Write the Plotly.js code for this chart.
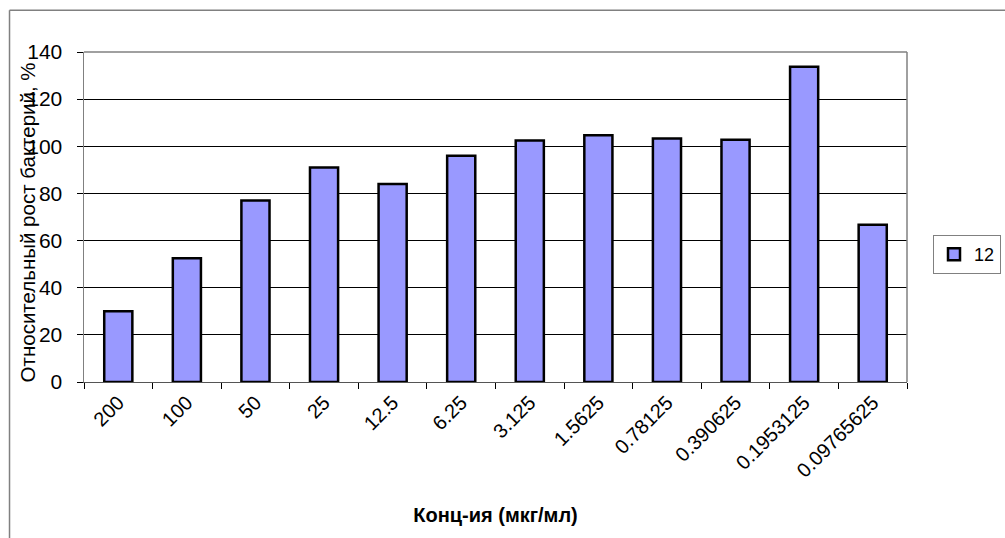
<!DOCTYPE html>
<html>
<head>
<meta charset="utf-8">
<script src="https://cdn.plot.ly/plotly-3.0.1.min.js"></script>
<style>
  html, body { margin: 0; padding: 0; background: #ffffff; }
  #chart { width: 1005px; height: 538px; }
</style>
</head>
<body>
<div id="chart"></div>
<script>
// Concentrations (мкг/мл), two-fold serial dilution
const concentrations = ['200', '100', '50', '25', '12.5', '6.25', '3.125', '1.5625',
  '0.78125', '0.390625', '0.1953125', '0.09765625'];
// Relative bacterial growth, %
const growth = [30, 52.5, 77, 91, 84, 96, 102.5, 104.7, 103.3, 102.8, 133.7, 66.7];
const seriesName = '12';
const yTicks = [0, 20, 40, 60, 80, 100, 120, 140];
const xTitle = 'Конц-ия (мкг/мл)';
const yTitle = 'Относительный рост бактерий, %';

const FONT = 'Arial, "Liberation Sans", sans-serif';
// trailing gap keeps the value labels clear of the short tick marks
const LABEL_GAP = '\u00A0\u2009';

const trace = {
  type: 'bar',
  x: concentrations,
  y: growth,
  name: seriesName,
  showlegend: true,
  marker: { color: '#9999FF', line: { color: '#000000', width: 2.5 } },
  hoverinfo: 'x+y'
};

const layout = {
  width: 1005,
  height: 538,
  margin: { l: 84, r: 98, t: 52, b: 156, autoexpand: false },
  paper_bgcolor: '#ffffff',
  plot_bgcolor: '#ffffff',
  font: { family: FONT, color: '#000000', size: 18 },
  bargap: 0.59,
  showlegend: true,
  xaxis: {
    type: 'category',
    tickson: 'boundaries',
    ticks: 'outside',
    ticklen: 6,
    tickcolor: '#000000',
    tickwidth: 1,
    tickangle: -45,
    tickfont: { family: FONT, size: 20 },
    showgrid: false,
    showline: true,
    linecolor: '#555555',
    linewidth: 1,
    mirror: false,
    automargin: false,
    title: { text: '<b>' + xTitle + '</b>', font: { family: FONT, size: 20 }, standoff: 27 }
  },
  yaxis: {
    range: [0, 140],
    tickvals: yTicks,
    ticktext: yTicks.map(v => String(v) + LABEL_GAP),
    ticks: 'outside',
    ticklen: 6,
    tickcolor: '#000000',
    tickwidth: 1,
    tickfont: { family: FONT, size: 21 },
    showgrid: true,
    gridcolor: '#000000',
    gridwidth: 1,
    zeroline: false,
    showline: true,
    linecolor: '#808080',
    linewidth: 1.5,
    automargin: false
  },
  annotations: [
    // vertical axis title, sits close to the tick labels
    { text: yTitle, textangle: -90, xref: 'paper', yref: 'paper',
      x: -0.0675, y: 0.485, xanchor: 'center', yanchor: 'middle', showarrow: false,
      font: { family: FONT, size: 20.5, color: '#000000' } }
  ],
  legend: {
    x: 1.0316,
    xanchor: 'left',
    y: 0.4456,
    yanchor: 'top',
    bordercolor: '#808080',
    borderwidth: 1,
    bgcolor: '#ffffff',
    font: { family: FONT, size: 18 },
    itemwidth: 30
  },
  shapes: [
    // plot-area frame (top and right edges)
    { type: 'line', xref: 'paper', yref: 'paper', x0: 0, x1: 1, y0: 1, y1: 1,
      line: { color: '#808080', width: 1.5 } },
    { type: 'line', xref: 'paper', yref: 'paper', x0: 1, x1: 1, y0: 0, y1: 1,
      line: { color: '#808080', width: 1.5 } },
    // outer chart frame (left and top edges)
    { type: 'line', xref: 'paper', yref: 'paper', x0: -0.0905, x1: -0.0905, y0: -0.5, y1: 1.1262,
      line: { color: '#808080', width: 1.5 } },
    { type: 'line', xref: 'paper', yref: 'paper', x0: -0.0905, x1: 1.15, y0: 1.1262, y1: 1.1262,
      line: { color: '#808080', width: 1.5 } }
  ]
};

Plotly.newPlot('chart', [trace], layout, { displayModeBar: false, staticPlot: true });
</script>
</body>
</html>
